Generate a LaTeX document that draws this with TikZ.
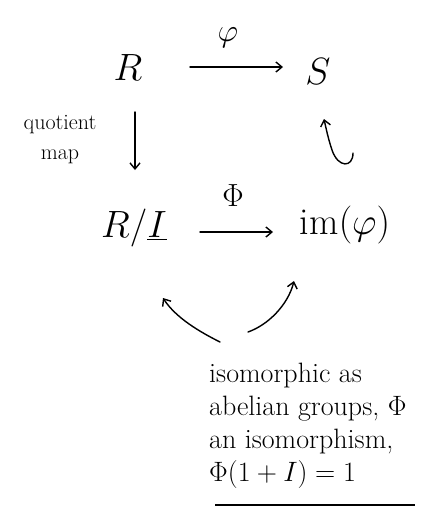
\RequirePackage{fix-cm}
\documentclass[tikz,border=0pt]{standalone}
\usepackage{fontspec}
\usetikzlibrary{arrows.meta}
\begin{document}
\begin{tikzpicture}[x=1pt,y=-1pt,
  obj/.style={inner sep=1pt,font=\fontsize{38}{42}\selectfont},
  lbl/.style={inner sep=1pt,font=\fontsize{32}{34}\selectfont},
  note/.style={inner sep=1pt,font=\fontsize{28}{33}\selectfont,align=left},
  arr/.style={-{Straight Barb[length=6pt,width=10pt]},line width=1.4pt,line cap=round}]
\useasboundingbox (0,0) rectangle (422,517);
\node[obj] (R) at (128,68) {$R$};
\node[obj] (S) at (318,72) {$S$};
\node[obj,anchor=west] (RI) at (100,228) {$R/\underline{I}$};
\node[obj] (im) at (345,225) {$\mathrm{im}(\varphi)$};
\node[lbl] (phi) at (228,38) {$\varphi$};
\node[lbl] (Phi) at (233,196) {$\Phi$};
\node[lbl,align=center,font=\fontsize{22}{30}\selectfont] (qm) at (60,140) {quotient\\map};
\node[note,anchor=north west] (txt) at (208,362) {isomorphic as\\abelian groups, $\Phi$\\an isomorphism,\\$\Phi(1+I)=1$};
\coordinate (ul1) at (215,505);
\coordinate (ul2) at (415,505);
\draw[line width=1.3pt] (ul1) -- (ul2);
\coordinate (p1) at (190,67); \coordinate (p2) at (283,67);
\coordinate (q1) at (135,112); \coordinate (q2) at (135,170);
\coordinate (r1) at (200,232); \coordinate (r2) at (273,232);
\coordinate (h1) at (353,153); \coordinate (h2) at (324,119);
\coordinate (l1) at (220,342); \coordinate (l2) at (163,298);
\coordinate (m1) at (248,332); \coordinate (m2) at (294,281);
\draw[arr] (p1) -- (p2);
\draw[arr] (q1) -- (q2);
\draw[arr] (r1) -- (r2);
\draw[arr] (h1) .. controls (353,168) and (338,168) .. (332,150) .. controls (328,138) and (326,128) .. (h2);
\draw[arr] (l1) .. controls (200,332) and (176,318) .. (l2);
\draw[arr] (m1) .. controls (268,325) and (288,305) .. (m2);
\end{tikzpicture}
\end{document}
